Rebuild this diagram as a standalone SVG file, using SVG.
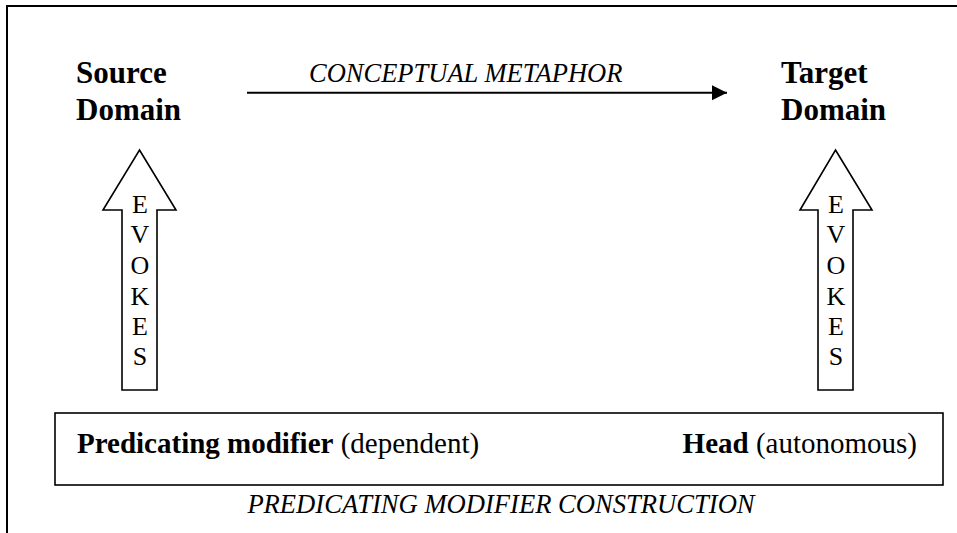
<svg xmlns="http://www.w3.org/2000/svg" width="957" height="533" viewBox="0 0 957 533">
  <defs>
    <style>
      text { font-family: "Liberation Serif", "Times New Roman", serif; fill: #000; }
      .domain { font-size: 31px; font-weight: bold; }
      .label { font-size: 26.5px; font-style: italic; }
      .body { font-size: 29px; }
      .bold { font-weight: bold; }
      .letters { font-size: 26px; text-anchor: middle; }
      .frame { fill: none; stroke: #000; stroke-width: 2; }
      .outline { fill: #fff; stroke: #000; stroke-width: 1.6; stroke-linejoin: miter; }
      .link { fill: none; stroke: #000; stroke-width: 2; }
    </style>
    <marker id="head" markerUnits="userSpaceOnUse" markerWidth="16" markerHeight="16" refX="15" refY="8" orient="auto">
      <path d="M0,0.5 L15,8 L0,15.5 Z" fill="#000"/>
    </marker>
  </defs>

  <!-- page frame (top and left edges) -->
  <path class="frame" d="M7,533 V6 H957"/>

  <g id="source-domain">
    <text class="domain" x="76" y="83">Source</text>
    <text class="domain" x="76" y="120">Domain</text>
  </g>

  <g id="target-domain">
    <text class="domain" x="781" y="83">Target</text>
    <text class="domain" x="781" y="120">Domain</text>
  </g>

  <g id="evokes-left">
    <path class="outline" d="M139.5,150 L176,210 H157 V390 H122 V210 H103 Z"/>
    <text class="letters" x="140" y="213">E</text>
    <text class="letters" x="140" y="243">V</text>
    <text class="letters" x="140" y="274">O</text>
    <text class="letters" x="140" y="305">K</text>
    <text class="letters" x="140" y="335">E</text>
    <text class="letters" x="140" y="365">S</text>
  </g>

  <g id="evokes-right">
    <path class="outline" d="M835.5,150 L872,210 H853 V390 H818 V210 H800 Z"/>
    <text class="letters" x="836" y="213">E</text>
    <text class="letters" x="836" y="243">V</text>
    <text class="letters" x="836" y="274">O</text>
    <text class="letters" x="836" y="305">K</text>
    <text class="letters" x="836" y="335">E</text>
    <text class="letters" x="836" y="365">S</text>
  </g>

  <g id="construction">
    <rect class="outline" x="55" y="413" width="888" height="72"/>
    <text class="body" x="77" y="453"><tspan class="bold">Predicating modifier</tspan> (dependent)</text>
    <text class="body" x="917" y="453" text-anchor="end"><tspan class="bold">Head</tspan> (autonomous)</text>
    <text class="label" x="501" y="513" text-anchor="middle" style="font-size:26.6px">PREDICATING MODIFIER CONSTRUCTION</text>
  </g>

  <g id="connectors">
    <line class="link" x1="247" y1="92.7" x2="727" y2="92.7" marker-end="url(#head)"/>
    <text class="label" x="309" y="82">CONCEPTUAL METAPHOR</text>
  </g>
</svg>
